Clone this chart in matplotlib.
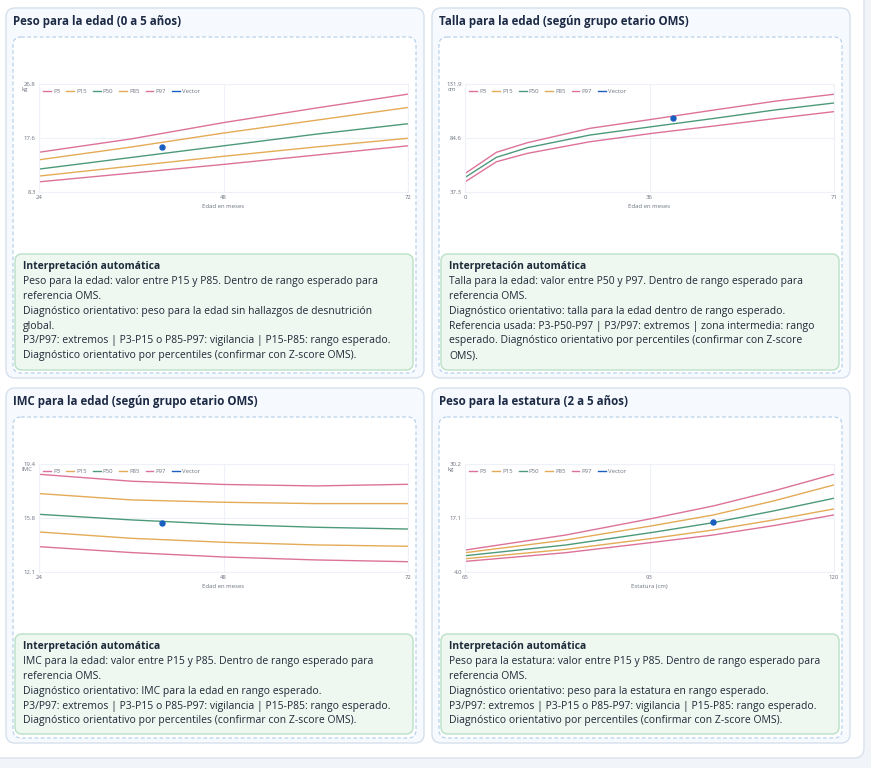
import matplotlib
matplotlib.use("Agg")
import matplotlib.pyplot as plt
from matplotlib.patches import FancyBboxPatch

plt.rcParams["font.family"] = ["Open Sans", "DejaVu Sans"]

# ---------------------------------------------------------------
# Data
# ---------------------------------------------------------------
peso_meses = [24, 36, 48, 60, 72]
peso_p3 = [10.0, 11.5, 13.0, 14.6, 16.2]
peso_p15 = [11.0, 12.7, 14.4, 16.0, 17.5]
peso_p50 = [12.2, 14.2, 16.2, 18.2, 20.0]
peso_p85 = [13.8, 16.0, 18.4, 20.6, 22.8]
peso_p97 = [15.1, 17.4, 20.2, 22.7, 25.1]
peso_vector = ([40], [16.0])

talla_meses = [0, 6, 12, 24, 36, 48, 60, 71]
talla_p3 = [46.1, 63.7, 71.1, 81.3, 88.7, 95.2, 101.9, 107.8]
talla_p15 = []
talla_p50 = [50.0, 67.6, 76.1, 87.2, 94.6, 101.9, 109.5, 115.4]
talla_p85 = []
talla_p97 = [53.5, 72.0, 80.5, 93.1, 101.1, 109.3, 117.2, 123.1]
talla_vector = ([40], [102.2])

imc_meses = [24, 36, 48, 60, 72]
imc_p3 = [13.80, 13.40, 13.10, 12.90, 12.78]
imc_p15 = [14.80, 14.37, 14.10, 13.92, 13.83]
imc_p50 = [16.00, 15.62, 15.32, 15.12, 15.00]
imc_p85 = [17.41, 16.98, 16.82, 16.73, 16.73]
imc_p97 = [18.72, 18.25, 18.03, 17.93, 18.04]
imc_vector = ([40], [15.4])

estatura_cm = [65, 80, 93, 102, 111, 120]
pe_p3 = [6.52, 8.64, 11.16, 12.95, 15.23, 17.83]
pe_p15 = [7.17, 9.45, 12.14, 14.17, 16.61, 19.30]
pe_p50 = [7.90, 10.51, 13.60, 15.96, 18.81, 21.90]
pe_p85 = [8.64, 11.73, 15.23, 17.83, 21.25, 25.15]
pe_p97 = [9.29, 12.95, 17.02, 20.03, 23.69, 27.76]
pe_vector = ([102], [16.04])

series_names = ["P3", "P15", "P50", "P85", "P97"]
series_colors = ["#d9638f", "#e0a244", "#3a8f6c", "#e0a244", "#d9638f"]
vector_color = "#1a5fc0"

charts = [
    dict(title="Peso para la edad (0 a 5 años)", x=peso_meses,
         ys=[peso_p3, peso_p15, peso_p50, peso_p85, peso_p97], vec=peso_vector,
         xlim=(24, 72), ylim=(8.3, 26.8), xticks=[24, 48, 72], xlabels=["24", "48", "72"],
         yticks=[8.3, 17.55, 26.8], ylabels=["8.3", "17.6", "26.8"],
         unit="kg", xtitle="Edad en meses",
         text=["Peso para la edad: valor entre P15 y P85. Dentro de rango esperado para",
               "referencia OMS.",
               "Diagnóstico orientativo: peso para la edad sin hallazgos de desnutrición",
               "global.",
               "P3/P97: extremos | P3-P15 o P85-P97: vigilancia | P15-P85: rango esperado.",
               "Diagnóstico orientativo por percentiles (confirmar con Z-score OMS)."]),
    dict(title="Talla para la edad (según grupo etario OMS)", x=talla_meses,
         ys=[talla_p3, talla_p15, talla_p50, talla_p85, talla_p97], vec=talla_vector,
         xlim=(0, 71), ylim=(37.3, 131.9), xticks=[0, 35.5, 71], xlabels=["0", "36", "71"],
         yticks=[37.3, 84.6, 131.9], ylabels=["37.3", "84.6", "131.9"],
         unit="cm", xtitle="Edad en meses",
         text=["Talla para la edad: valor entre P50 y P97. Dentro de rango esperado para",
               "referencia OMS.",
               "Diagnóstico orientativo: talla para la edad dentro de rango esperado.",
               "Referencia usada: P3-P50-P97 | P3/P97: extremos | zona intermedia: rango",
               "esperado. Diagnóstico orientativo por percentiles (confirmar con Z-score",
               "OMS)."]),
    dict(title="IMC para la edad (según grupo etario OMS)", x=imc_meses,
         ys=[imc_p3, imc_p15, imc_p50, imc_p85, imc_p97], vec=imc_vector,
         xlim=(24, 72), ylim=(12.1, 19.4), xticks=[24, 48, 72], xlabels=["24", "48", "72"],
         yticks=[12.1, 15.75, 19.4], ylabels=["12.1", "15.8", "19.4"],
         unit="IMC", xtitle="Edad en meses",
         text=["IMC para la edad: valor entre P15 y P85. Dentro de rango esperado para",
               "referencia OMS.",
               "Diagnóstico orientativo: IMC para la edad en rango esperado.",
               "P3/P97: extremos | P3-P15 o P85-P97: vigilancia | P15-P85: rango esperado.",
               "Diagnóstico orientativo por percentiles (confirmar con Z-score OMS)."]),
    dict(title="Peso para la estatura (2 a 5 años)", x=estatura_cm,
         ys=[pe_p3, pe_p15, pe_p50, pe_p85, pe_p97], vec=pe_vector,
         xlim=(65, 120), ylim=(4.0, 30.2), xticks=[65, 92.5, 120], xlabels=["65", "93", "120"],
         yticks=[4.0, 17.1, 30.2], ylabels=["4.0", "17.1", "30.2"],
         unit="kg", xtitle="Estatura (cm)",
         text=["Peso para la estatura: valor entre P15 y P85. Dentro de rango esperado para",
               "referencia OMS.",
               "Diagnóstico orientativo: peso para la estatura en rango esperado.",
               "P3/P97: extremos | P3-P15 o P85-P97: vigilancia | P15-P85: rango esperado.",
               "Diagnóstico orientativo por percentiles (confirmar con Z-score OMS)."]),
]

W, H = 871, 768
fig = plt.figure(figsize=(W / 100, H / 100), dpi=100)
fig.patch.set_facecolor("#f1f4f8")

# background layer in pixel coordinates
bg = fig.add_axes([0, 0, 1, 1], zorder=0)
bg.set_xlim(0, W)
bg.set_ylim(H, 0)
bg.axis("off")


def box(x0, y0, x1, y1, fc, ec, r=8, ls="-", lw=1.0):
    bg.add_patch(FancyBboxPatch((x0, y0), x1 - x0, y1 - y0,
                                boxstyle=f"round,pad=0,rounding_size={r}",
                                fc=fc, ec=ec, lw=lw, ls=ls))


# outer container
box(-20, -20, 864, 758, "white", "#dbe2ec", r=10)

col_x = [6, 432]
row_y = [(8, 378), (388, 743)]
plot_top = [84.3, 464.3]
text_top = [267, 647]
green_box = [(254, 370), (634, 734)]
dashed_top = [37, 417]

for i, c in enumerate(charts):
    row, col = divmod(i, 2)
    cx = col_x[col]
    y0, y1 = row_y[row]
    box(cx, y0, cx + 418, y1, "#f6faff", "#d6e0ec", r=9)
    bg.text(cx + 7, y0 + 13, c["title"], fontsize=8.3, fontweight="bold",
            color="#1d2a45", va="center", ha="left")
    box(cx + 7, dashed_top[row], cx + 410, y1 - 5, "white", "#b8d1ea", r=8,
        ls=(0, (3, 2)), lw=0.9)
    gb0, gb1 = green_box[row]
    box(cx + 9, gb0, cx + 407, gb1, "#eef8f1", "#b9e0c6", r=7)
    ty = text_top[row]
    bg.text(cx + 17, ty, "Interpretación automática", fontsize=7.5,
            fontweight="bold", color="#1d2a3a", va="center", ha="left")
    for k, line in enumerate(c["text"]):
        bg.text(cx + 17, ty + 14.8 * (k + 1), line, fontsize=7.5,
                color="#1f2937", va="center", ha="left")

    # chart axes
    left = cx + 33.3
    right = cx + 401.7
    top = plot_top[row]
    bottom = top + 107.4
    ax = fig.add_axes([left / W, 1 - bottom / H, (right - left) / W, (bottom - top) / H],
                      zorder=2)
    ax.set_facecolor("white")
    for name, ys, color in zip(series_names, c["ys"], series_colors):
        ax.plot(c["x"][:len(ys)], ys, color=color, lw=1.0, alpha=0.9, label=name)
    ax.plot([], [], color=vector_color, lw=1.0, label="Vector")
    ax.plot(*c["vec"], "o", color=vector_color, ms=3.6, zorder=5)
    ax.set_xlim(*c["xlim"])
    ax.set_ylim(*c["ylim"])
    ax.set_xticks(c["xticks"], c["xlabels"])
    ax.set_yticks(c["yticks"], c["ylabels"])
    ax.tick_params(length=0, labelsize=4.3, labelcolor="#6b7280", pad=2.5)
    ax.grid(True, color="#eef1f7", lw=0.8)
    ax.set_axisbelow(True)
    for s in ax.spines.values():
        s.set_color("#eef1f7")
        s.set_linewidth(0.8)
    ax.set_xlabel(c["xtitle"], fontsize=4.3, color="#6b7280", labelpad=3)
    ax.text(-18 / (right - left), 1 - 5 / 107.4, c["unit"], transform=ax.transAxes,
            fontsize=4.3, color="#6b7280", ha="left", va="center")
    ax.legend(loc="upper left", bbox_to_anchor=(0.0, 1.0), ncol=6, frameon=False,
              fontsize=4.3, handlelength=1.3, handletextpad=0.35, columnspacing=1.0,
              labelcolor="#6b7280", borderaxespad=0.3)

fig.savefig("out.png", dpi=100)
